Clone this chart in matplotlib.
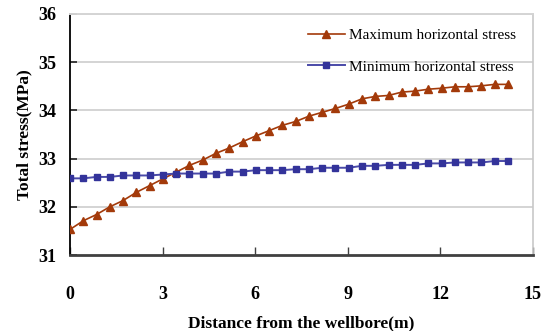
import numpy as np
import matplotlib
matplotlib.use('Agg')
import matplotlib.pyplot as plt

# ─── DADOS ───────────────────────────────────────
distancia = [0.00, 0.43, 0.86, 1.29, 1.72, 2.15, 2.58, 3.01, 3.44, 3.87,
             4.30, 4.73, 5.16, 5.59, 6.02, 6.45, 6.88, 7.31, 7.74, 8.17,
             8.60, 9.03, 9.46, 9.89, 10.32, 10.75, 11.18, 11.61, 12.04, 12.47,
             12.90, 13.33, 13.76, 14.19]

tensao_max = [31.53, 31.71, 31.84, 32.00, 32.13, 32.30, 32.44, 32.58, 32.72, 32.86,
              32.97, 33.11, 33.22, 33.35, 33.47, 33.58, 33.69, 33.77, 33.88, 33.96,
              34.04, 34.13, 34.24, 34.29, 34.31, 34.38, 34.40, 34.44, 34.46, 34.49,
              34.49, 34.51, 34.54, 34.54]

tensao_min = [32.59, 32.59, 32.62, 32.62, 32.65, 32.65, 32.65, 32.67, 32.69, 32.69,
              32.69, 32.69, 32.73, 32.73, 32.76, 32.76, 32.76, 32.78, 32.78, 32.81,
              32.81, 32.81, 32.85, 32.85, 32.87, 32.87, 32.87, 32.90, 32.90, 32.92,
              32.92, 32.92, 32.95, 32.95]

xticks = [0, 3, 6, 9, 12, 15]
yticks = [31, 32, 33, 34, 35, 36]

# ─── GRÁFICO ─────────────────────────────────────
plt.rcParams['font.family'] = ['Liberation Serif', 'DejaVu Serif']

fig = plt.figure(figsize=(5.46, 3.31), dpi=100)
ax = fig.add_axes([70/546, 1 - 255/331, (533 - 70)/546, (255 - 14)/331])

for y in yticks[1:]:
    ax.axhline(y, color='#d4d4d4', linewidth=1.4, zorder=0)

ax.plot(distancia, tensao_max, color='#a33a0a', linewidth=1.2,
        marker='^', markersize=6, markerfacecolor='#a33a0a',
        markeredgecolor='#a33a0a', label='Maximum horizontal stress', zorder=3)
ax.plot(distancia, tensao_min, color='#4a4aa8', linewidth=1.4,
        marker='s', markersize=4.5, markerfacecolor='#33339a',
        markeredgecolor='#33339a', label='Minimum horizontal stress', zorder=3)

ax.set_xlim(0, 15)
ax.set_ylim(31, 36)
ax.set_xticks(xticks)
ax.set_yticks(yticks)
ax.tick_params(axis='x', direction='in', length=6, width=1, color='#404040',
               pad=22, labelsize=13)
ax.tick_params(axis='y', direction='in', length=5, width=1.2, color='#202020',
               pad=10, labelsize=13)
for lbl in ax.get_xticklabels() + ax.get_yticklabels():
    lbl.set_fontweight('bold')

ax.spines['left'].set_color('black')
ax.spines['left'].set_linewidth(1.3)
ax.spines['bottom'].set_color('#404040')
ax.spines['bottom'].set_linewidth(2)
ax.spines['top'].set_color('#d4d4d4')
ax.spines['top'].set_linewidth(1.4)
ax.spines['right'].set_color('#c8c8c8')
ax.spines['right'].set_linewidth(1.2)

ax.set_xlabel('Distance from the wellbore(m)', fontsize=12.5,
              fontweight='bold', labelpad=9)
ax.set_ylabel('Total stress(MPa)', fontsize=12.5, fontweight='bold',
              labelpad=4)

ax.legend(loc='upper right', frameon=False, fontsize=11,
          handlelength=2.4, handletextpad=0.3, labelspacing=1.15,
          bbox_to_anchor=(1 - 6/463, 1 - 4/241), borderaxespad=0.3)

plt.savefig('out.png', dpi=100)
